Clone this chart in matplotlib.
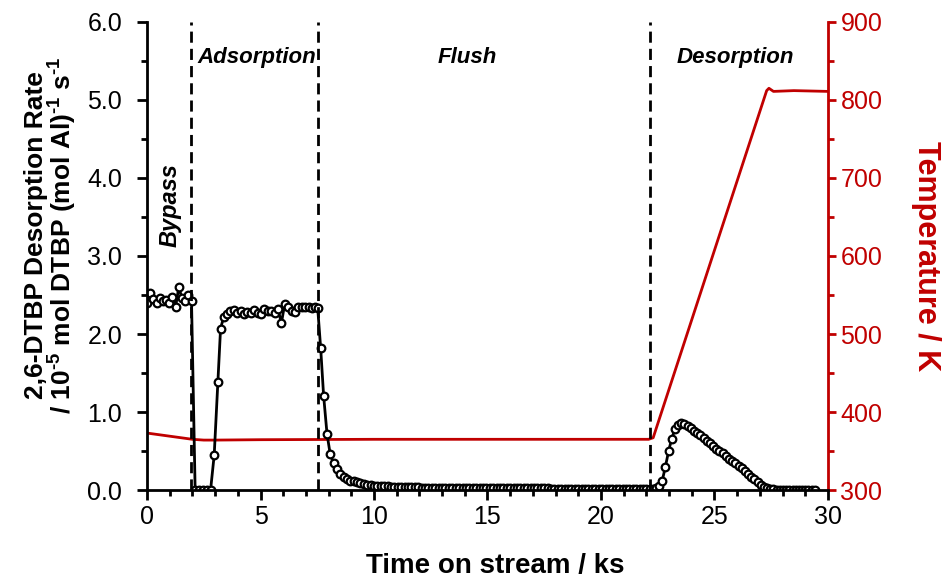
import matplotlib
matplotlib.use('Agg')
import matplotlib.pyplot as plt
from matplotlib.ticker import MultipleLocator, FormatStrFormatter

plt.rcParams['font.family'] = ['Liberation Sans', 'DejaVu Sans']
plt.rcParams['mathtext.fontset'] = 'custom'
plt.rcParams['mathtext.rm'] = 'Liberation Sans:bold'
plt.rcParams['mathtext.default'] = 'rm'

RED = '#C00000'

# --- desorption rate data (10^-5 mol DTBP (mol Al)^-1 s^-1) ---
t_bypass = [0.0, 0.14, 0.28, 0.42, 0.56, 0.70, 0.84, 0.98, 1.12, 1.26,
            1.40, 1.54, 1.68, 1.82, 1.96]
r_bypass = [2.40, 2.52, 2.45, 2.40, 2.46, 2.42, 2.44, 2.40, 2.47, 2.35,
            2.60, 2.46, 2.42, 2.50, 2.42]

t_adsorb = [2.12, 2.29, 2.46, 2.63, 2.80, 2.96, 3.12, 3.24, 3.38,
            3.52, 3.67, 3.82, 3.97, 4.12, 4.27, 4.42, 4.57, 4.72, 4.87,
            5.02, 5.17, 5.32, 5.47, 5.62, 5.77, 5.92, 6.07, 6.22, 6.37,
            6.52, 6.67, 6.82, 6.97, 7.12, 7.27, 7.42, 7.52]
r_adsorb = [0.0, 0.0, 0.0, 0.0, 0.0, 0.45, 1.39, 2.07, 2.22,
            2.26, 2.29, 2.31, 2.27, 2.29, 2.26, 2.28, 2.27, 2.31, 2.27,
            2.26, 2.32, 2.29, 2.29, 2.27, 2.32, 2.14, 2.39, 2.35, 2.29,
            2.28, 2.35, 2.34, 2.34, 2.34, 2.33, 2.34, 2.33]

t_flush = [7.65, 7.78, 7.93, 8.07, 8.22, 8.37, 8.51, 8.66, 8.80, 8.95,
           9.10, 9.25, 9.40, 9.55, 9.70, 9.85,
           10.00, 10.15, 10.30, 10.45, 10.60, 10.75, 10.90, 11.05, 11.20, 11.35,
           11.50, 11.65, 11.80, 11.95, 12.10, 12.25, 12.40, 12.55, 12.70, 12.85,
           13.00, 13.15, 13.30, 13.45, 13.60, 13.75, 13.90, 14.05, 14.20, 14.35,
           14.50, 14.65, 14.80, 14.95, 15.10, 15.25, 15.40, 15.55, 15.70, 15.85,
           16.00, 16.15, 16.30, 16.45, 16.60, 16.75, 16.90, 17.05, 17.20, 17.35,
           17.50, 17.65, 17.80, 17.95, 18.10, 18.25, 18.40, 18.55, 18.70, 18.85,
           19.00, 19.15, 19.30, 19.45, 19.60, 19.75, 19.90, 20.05, 20.20, 20.35,
           20.50, 20.65, 20.80, 20.95, 21.10, 21.25, 21.40, 21.55, 21.70, 21.85]
r_flush = [1.82, 1.21, 0.72, 0.46, 0.34, 0.27, 0.21, 0.17, 0.14, 0.12,
           0.11, 0.10, 0.09, 0.08, 0.07, 0.06,
           0.05, 0.05, 0.05, 0.05, 0.05, 0.04, 0.04, 0.04, 0.04, 0.04,
           0.04, 0.04, 0.04, 0.04, 0.03, 0.03, 0.03, 0.03, 0.03, 0.03,
           0.03, 0.03, 0.03, 0.03, 0.03, 0.03, 0.03, 0.03, 0.02, 0.02,
           0.02, 0.02, 0.02, 0.02, 0.02, 0.02, 0.02, 0.02, 0.02, 0.02,
           0.02, 0.02, 0.02, 0.02, 0.02, 0.02, 0.02, 0.02, 0.02, 0.02,
           0.02, 0.02, 0.01, 0.01, 0.01, 0.01, 0.01, 0.01, 0.01, 0.01,
           0.01, 0.01, 0.01, 0.01, 0.01, 0.01, 0.01, 0.01, 0.01, 0.01,
           0.01, 0.01, 0.01, 0.01, 0.01, 0.01, 0.01, 0.01, 0.01, 0.01]

t_desorb = [22.00, 22.14, 22.28, 22.42, 22.56, 22.70, 22.84, 22.98, 23.12, 23.26,
            23.40, 23.54, 23.68, 23.82, 23.96, 24.10, 24.24, 24.38, 24.52, 24.66,
            24.80, 24.94, 25.08, 25.22, 25.36, 25.50, 25.64, 25.78, 25.92, 26.06,
            26.20, 26.34, 26.48, 26.62, 26.76, 26.90, 27.04, 27.18, 27.32, 27.46,
            27.60, 27.74, 27.88, 28.02, 28.16, 28.30, 28.44, 28.58, 28.72, 28.86,
            29.00, 29.14, 29.28, 29.42]
r_desorb = [0.01, 0.01, 0.01, 0.02, 0.05, 0.12, 0.30, 0.50, 0.66, 0.78,
            0.83, 0.855, 0.85, 0.82, 0.79, 0.76, 0.73, 0.70, 0.665, 0.63,
            0.60, 0.57, 0.53, 0.50, 0.47, 0.44, 0.40, 0.37, 0.34, 0.31,
            0.28, 0.25, 0.21, 0.17, 0.14, 0.10, 0.07, 0.045, 0.025, 0.015,
            0.01, 0.005, 0.005, 0.005, 0.005, 0.005, 0.005, 0.005, 0.005, 0.005,
            0.005, 0.005, 0.005, 0.005]

# --- temperature (K) ---
t_temp = [0.0, 0.5, 1.0, 1.5, 2.0, 2.5, 3.0, 5.0, 10.0, 15.0, 20.0, 22.1,
          22.3, 27.3, 27.4, 27.6, 28.5, 30.0]
temp = [373, 371, 369, 367, 365, 364, 364, 364.5, 365, 365, 365, 365,
        367, 812, 815, 811, 812, 811]

# stage boundaries and labels
stage_lines = [1.95, 7.55, 22.15]
stage_names = ['Adsorption', 'Flush', 'Desorption']
stage_x = [4.85, 14.1, 25.9]

t_all = t_bypass + t_adsorb + t_flush + t_desorb
r_all = r_bypass + r_adsorb + r_flush + r_desorb

fig = plt.figure(figsize=(9.51, 5.83), dpi=100)
ax = fig.add_axes([0.1546, 0.1595, 0.716, 0.8028])
ax2 = ax.twinx()
ax.set_zorder(ax2.get_zorder() + 1)
ax.patch.set_visible(False)

ax2.plot(t_temp, temp, color=RED, lw=2)
ax.plot(t_all, r_all, color='black', lw=2, marker='o', ms=5.5,
        mfc='white', mec='black', mew=1.6)

for x in stage_lines:
    ax.axvline(x, color='black', lw=2, ls=(0, (4, 2.2)))

txt = dict(fontsize=16, fontweight='bold', fontstyle='italic', ha='center', va='center')
for name, x in zip(stage_names, stage_x):
    ax.text(x, 5.55, name, **txt)
ax.text(1.0, 3.65, 'Bypass', rotation=90, **dict(txt, fontsize=17))

ax.set_xlim(0, 30)
ax.set_ylim(0, 6)
ax2.set_ylim(300, 900)

ax.xaxis.set_major_locator(MultipleLocator(5))
ax.xaxis.set_minor_locator(MultipleLocator(1))
ax.yaxis.set_major_locator(MultipleLocator(1))
ax.yaxis.set_minor_locator(MultipleLocator(0.5))
ax.yaxis.set_major_formatter(FormatStrFormatter('%.1f'))
ax2.yaxis.set_major_locator(MultipleLocator(100))
ax2.yaxis.set_minor_locator(MultipleLocator(50))

for a in (ax, ax2):
    a.spines['top'].set_visible(False)
    for s in a.spines.values():
        s.set_linewidth(2)
ax.spines['right'].set_visible(False)
ax2.spines['left'].set_visible(False)
ax2.spines['bottom'].set_visible(False)
ax2.spines['right'].set_color(RED)

ax.tick_params(which='both', direction='out', width=2, labelsize=18)
ax.tick_params(which='major', length=7)
ax.tick_params(which='minor', length=4)
ax.tick_params(axis='y', pad=11)
ax2.tick_params(which='both', direction='out', width=2, labelsize=18,
                colors=RED, pad=3)
ax2.tick_params(which='major', length=6)
ax2.tick_params(which='minor', length=4)

ax.set_xlabel('Time on stream / ks', fontsize=20, fontweight='bold')
ax.xaxis.set_label_coords(0.511, -0.135)
ax.set_ylabel('2,6-DTBP Desorption Rate\n/ 10$^{\\text{-5}}$ mol DTBP (mol Al)$^{\\text{-1}}$ s$^{\\text{-1}}$',
              fontsize=19, fontweight='bold', linespacing=0.95)
ax.yaxis.set_label_coords(-0.10, 0.545)
ax2.set_ylabel('Temperature / K', fontsize=22, fontweight='bold', color=RED,
               rotation=270, labelpad=42)

fig.savefig('out.png', dpi=100)
